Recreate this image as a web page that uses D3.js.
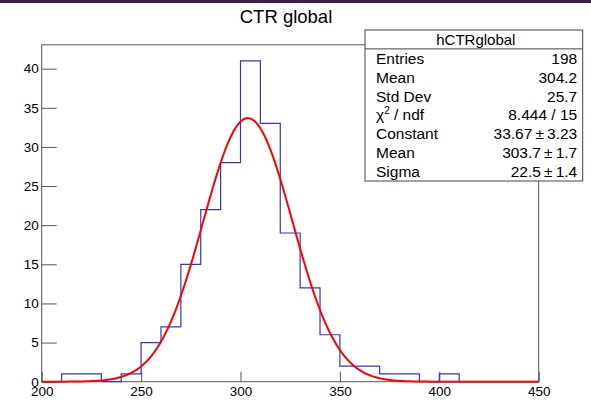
<!DOCTYPE html>
<html>
<head>
  <meta charset="utf-8">
  <script src="https://d3js.org/d3.v7.min.js"></script>
  <style>
    body { margin: 0; background: #fff; }
    text { font-family: "Liberation Sans", Arial, Helvetica, sans-serif; }
  </style>
</head>
<body>
<div id="chart"></div>
<script>
  // histogram bins (width 10, from 200 to 450)
  var binEdges = [200, 210, 220, 230, 240, 250, 260, 270, 280, 290, 300, 310, 320,
                  330, 340, 350, 360, 370, 380, 390, 400, 410, 420, 430, 440, 450];
  var binCounts = [0, 1, 1, 0, 1, 5, 7, 15, 22, 28, 41, 33, 19,
                   12, 6, 2, 2, 1, 1, 0, 1, 0, 0, 0, 0];

  // gaus fit parameters, as shown in the stats box
  var fitConstant = 33.67;
  var fitMean = 303.7;
  var fitSigma = 22.5;

  var xTicks = [200, 250, 300, 350, 400, 450];
  var yTicks = [0, 5, 10, 15, 20, 25, 30, 35, 40];

  var statLabels = ["Entries", "Mean", "Std Dev", "chi", "Constant", "Mean", "Sigma"];
  var statValues = ["198", "304.2", "25.7", "8.444 / 15", "33.67\u2009\u00b1\u20093.23",
                    "303.7\u2009\u00b1\u20091.7", "22.5\u2009\u00b1\u20091.4"];

  var W = 591, H = 400;
  var svg = d3.select("#chart").append("svg")
      .attr("width", W).attr("height", H);

  // dark strip along the top edge
  svg.append("rect").attr("x", 0).attr("y", 0).attr("width", W).attr("height", 3)
      .attr("fill", "#3e2150");

  var x = d3.scaleLinear().domain([200, 450]).range([41.7, 538.7]);
  var y = d3.scaleLinear().domain([0, 43.05]).range([381.7, 44.8]);

  // title
  svg.append("text").attr("x", 286).attr("y", 23)
      .attr("text-anchor", "middle").attr("font-size", 18.5).attr("fill", "#000")
      .text("CTR global");

  // axes (ticks point inward like ROOT)
  var axisCol = "#555";
  var gx = svg.append("g").attr("transform", "translate(0," + y(0) + ")");
  gx.call(d3.axisBottom(x).tickValues(d3.range(200, 451, 10)).tickSize(-5).tickFormat(""));
  gx.call(d3.axisBottom(x).tickValues(xTicks).tickSize(-10).tickPadding(5).tickFormat(d3.format("d")));
  gx.selectAll(".domain").remove();
  gx.selectAll("line").attr("stroke", axisCol);
  gx.selectAll("text").attr("font-size", 13.5).attr("fill", "#000")
      .attr("font-family", "Liberation Sans, Arial, sans-serif");

  var gy = svg.append("g").attr("transform", "translate(" + x(200) + ",0)");
  gy.call(d3.axisLeft(y).tickValues(d3.range(0, 44, 1)).tickSize(-7.5).tickFormat(""));
  gy.call(d3.axisLeft(y).tickValues(yTicks).tickSize(-15).tickPadding(3).tickFormat(d3.format("d")));
  gy.selectAll(".domain").remove();
  gy.selectAll("line").attr("stroke", axisCol);
  gy.selectAll("text").attr("font-size", 13.5).attr("fill", "#000")
      .attr("font-family", "Liberation Sans, Arial, sans-serif");

  // frame
  svg.append("rect")
      .attr("x", x(200)).attr("y", y(43.05))
      .attr("width", x(450) - x(200)).attr("height", y(0) - y(43.05))
      .attr("fill", "none").attr("stroke", axisCol).attr("stroke-width", 1);

  // histogram outline
  var pts = [[binEdges[0], 0]];
  binCounts.forEach(function(c, i) {
    pts.push([binEdges[i], c]);
    pts.push([binEdges[i + 1], c]);
  });
  pts.push([binEdges[binEdges.length - 1], 0]);
  svg.append("path")
      .attr("d", d3.line().x(function(d) { return x(d[0]); }).y(function(d) { return y(d[1]); })(pts))
      .attr("fill", "none").attr("stroke", "#3535c8").attr("stroke-width", 1.2);

  // gaussian fit curve
  var gaus = function(v) {
    return fitConstant * Math.exp(-0.5 * Math.pow((v - fitMean) / fitSigma, 2));
  };
  var fitPts = d3.range(200, 450.01, 0.5).map(function(v) { return [v, gaus(v)]; });
  svg.append("path")
      .attr("d", d3.line().x(function(d) { return x(d[0]); }).y(function(d) { return y(d[1]); })(fitPts))
      .attr("fill", "none").attr("stroke", "#ff0000").attr("stroke-width", 2);

  // stats box
  var bx = 365, by = 30, bw = 217.7, bh = 151;
  var rowH = bh / 8;
  var box = svg.append("g");
  box.append("rect").attr("x", bx).attr("y", by).attr("width", bw).attr("height", bh)
      .attr("fill", "#fff").attr("stroke", "#444").attr("stroke-width", 1);
  box.append("line").attr("x1", bx).attr("x2", bx + bw)
      .attr("y1", by + rowH).attr("y2", by + rowH).attr("stroke", "#444");
  box.append("text").attr("x", bx + bw / 2 + 2).attr("y", by + rowH / 2 + 5.3)
      .attr("text-anchor", "middle").attr("font-size", 15).text("hCTRglobal");

  statLabels.forEach(function(lab, i) {
    var ty = by + rowH * (i + 1.5) + 5.5;
    var t = box.append("text").attr("x", bx + 11).attr("y", ty).attr("font-size", 15.5);
    if (lab === "chi") {
      t.append("tspan").text("\u03c7");
      t.append("tspan").attr("font-size", 10).attr("dy", -6).text("2");
      t.append("tspan").attr("dy", 6).text(" / ndf");
    } else {
      t.text(lab);
    }
    box.append("text").attr("x", bx + bw - 5.5).attr("y", ty)
        .attr("text-anchor", "end").attr("font-size", 15.5).text(statValues[i]);
  });
</script>
</body>
</html>
